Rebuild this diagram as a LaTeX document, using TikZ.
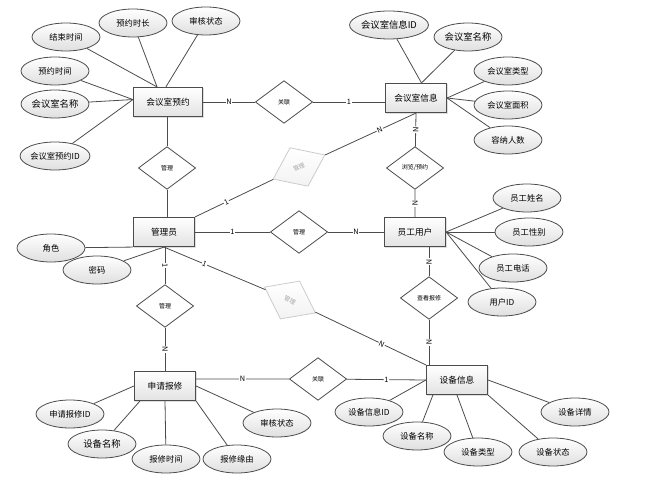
\documentclass[tikz,border=0pt]{standalone}
\usepackage{fontspec}
\setmainfont{Noto Sans CJK SC}
\usetikzlibrary{shapes.geometric,shadows}
\tikzset{
    x=0.75pt, y=-0.75pt, % one unit is one pixel of the sketch, y runs downwards
    link/.style={draw=black!70, line width=0.6pt},
    entity/.style={rectangle, draw=black!70, line width=0.6pt, minimum width=46pt, minimum height=22pt,
        inner sep=1pt, top color=white, bottom color=gray!22, font=\fontsize{6.5}{7}\selectfont,
        drop shadow={opacity=0.25, shadow xshift=0.8pt, shadow yshift=-0.8pt}},
    attrib/.style={ellipse, draw=black!70, line width=0.6pt, minimum width=51pt, minimum height=21pt,
        inner sep=0pt, top color=white, bottom color=gray!25, font=\fontsize{6.2}{7}\selectfont},
    bigattrib/.style={attrib, font=\fontsize{7}{8}\selectfont},
    relation/.style={diamond, draw=black!70, line width=0.6pt, minimum width=43pt, minimum height=32pt,
        inner sep=0pt, fill=white, font=\fontsize{4.5}{5}\selectfont},
    faded/.style={relation, draw=gray!40, top color=white, bottom color=gray!10, text=gray!70}, % the two light grey diamonds
    card/.style={fill=white, inner sep=0.5pt, sloped, font=\fontsize{5.5}{6}\selectfont},
}

\begin{document}
\begin{tikzpicture}
  \useasboundingbox (0,0) rectangle (666,488);

  % entities
  \node[entity, minimum width=52pt] (resv) at (168,102) {会议室预约};
  \node[entity] (room)   at (416,98)  {会议室信息};
  \node[entity] (admin)  at (164,232) {管理员};
  \node[entity] (staff)  at (415,232) {员工用户};
  \node[entity] (repair) at (165,386) {申请报修};
  \node[entity] (dev)    at (457,380) {设备信息};

  % relations
  \node[relation] (relA)   at (284,102) {关联};
  \node[relation] (mgrA)   at (167,168) {管理};
  \node[relation] (browse) at (415,168) {浏览/预约};
  \node[relation] (mgrB)   at (299,232) {管理};
  \node[relation] (mgrC)   at (165,306) {管理};
  \node[relation] (view)   at (429,298) {查看报修};
  \node[relation] (relB)   at (318,379) {关联};
  \node[faded, rotate=25]  (mgrD) at (299,167) {管理};
  \node[faded, rotate=-27] (mgrE) at (290,300) {管理};

  % attributes of 会议室预约
  \node[attrib]    (endT)   at (66,37)  {结束时间};
  \node[attrib]    (dur)    at (133,23) {预约时长};
  \node[attrib]    (stateA) at (206,21) {审核状态};
  \node[attrib]    (startT) at (55,71)  {预约时间};
  \node[bigattrib] (rname)  at (55,104) {会议室名称};
  \node[attrib]    (rid)    at (55,156) {会议室预约ID};
  % attributes of 会议室信息
  \node[bigattrib] (roomid)   at (389,25)  {会议室信息ID};
  \node[bigattrib] (roomname) at (468,37)  {会议室名称};
  \node[attrib]    (rtype)    at (508,71)  {会议室类型};
  \node[attrib]    (rarea)    at (508,105) {会议室面积};
  \node[attrib]    (rcap)     at (508,140) {容纳人数};
  % attributes of 员工用户
  \node[attrib] (sname)  at (527,198) {员工姓名};
  \node[attrib] (ssex)   at (529,232) {员工性别};
  \node[attrib] (sphone) at (513,268) {员工电话};
  \node[attrib] (sid)    at (502,302) {用户ID};
  % attributes of 管理员
  \node[attrib] (role) at (51,248) {角色};
  \node[attrib] (pwd)  at (97,270) {密码};
  % attributes of 申请报修
  \node[attrib]    (repid)   at (70,414)  {申请报修ID};
  \node[bigattrib] (repdev)  at (102,444) {设备名称};
  \node[attrib]    (reptime) at (166,459) {报修时间};
  \node[attrib]    (repwhy)  at (237,459) {报修缘由};
  \node[attrib]    (stateB)  at (277,423) {审核状态};
  % attributes of 设备信息
  \node[attrib] (devid)    at (369,412) {设备信息ID};
  \node[attrib] (devname)  at (417,436) {设备名称};
  \node[attrib] (devtype)  at (478,452) {设备类型};
  \node[attrib] (devstate) at (553,452) {设备状态};
  \node[attrib] (devinfo)  at (575,412) {设备详情};

  % relationships
  \draw[link] (resv) -- node[card] {N} (relA) -- node[card] {1} (room.west |- relA);
  \draw[link] (resv.south -| mgrA) -- (mgrA) -- (mgrA |- admin.north);
  \draw[link] (room.south) -- node[card] {N} (browse) -- node[card] {N} (staff.north);
  \draw[link] (admin) -- node[card] {1} (mgrB) -- node[card] {N} (staff);
  \draw[link] (admin.south -| mgrC) -- node[card] {1} (mgrC) -- node[card] {N} (repair.north -| mgrC);
  \draw[link] (staff.south -| view) -- node[card] {N} (view) -- node[card] {N} (view |- dev.north);
  \draw[link] (repair.east |- relB) -- node[card] {N} (relB) -- node[card] {1} (dev.west);
  \draw[link] (admin.north east) -- node[card, pos=.4] {1} (mgrD) -- node[card, pos=.6] {N} (room.south);
  \draw[link] (admin.south) -- node[card, pos=.4] {1} (mgrE) -- node[card, pos=.6] {N} (dev.north west);

  % attribute lines
  \path[link]
    (endT) edge (resv.126)  (dur) edge (resv.126)  (stateA) edge (resv.98)
    (startT) edge (resv.176)  (rname) edge (resv.176)  (rid) edge (resv.176)
    (roomid) edge (room.70)  (roomname) edge (room.70)
    (rtype) edge (room.east)  (rarea) edge (room.east)  (rcap) edge (room.east)
    (sname) edge (staff.east)  (ssex) edge (staff.east)  (sphone) edge (staff.east)  (sid) edge (staff.east)
    (role) edge (admin.south west)  (pwd) edge (admin.south)
    (repid) edge (repair.west)  (repdev) edge (repair.211)  (reptime) edge (repair.south)
    (repwhy) edge (repair.south east)  (stateB) edge (repair.east)
    (devid) edge (dev.west)  (devname) edge (dev.212)  (devtype) edge (dev.south)
    (devstate) edge (dev.south east)  (devinfo) edge (dev.east);
\end{tikzpicture}
\end{document}
